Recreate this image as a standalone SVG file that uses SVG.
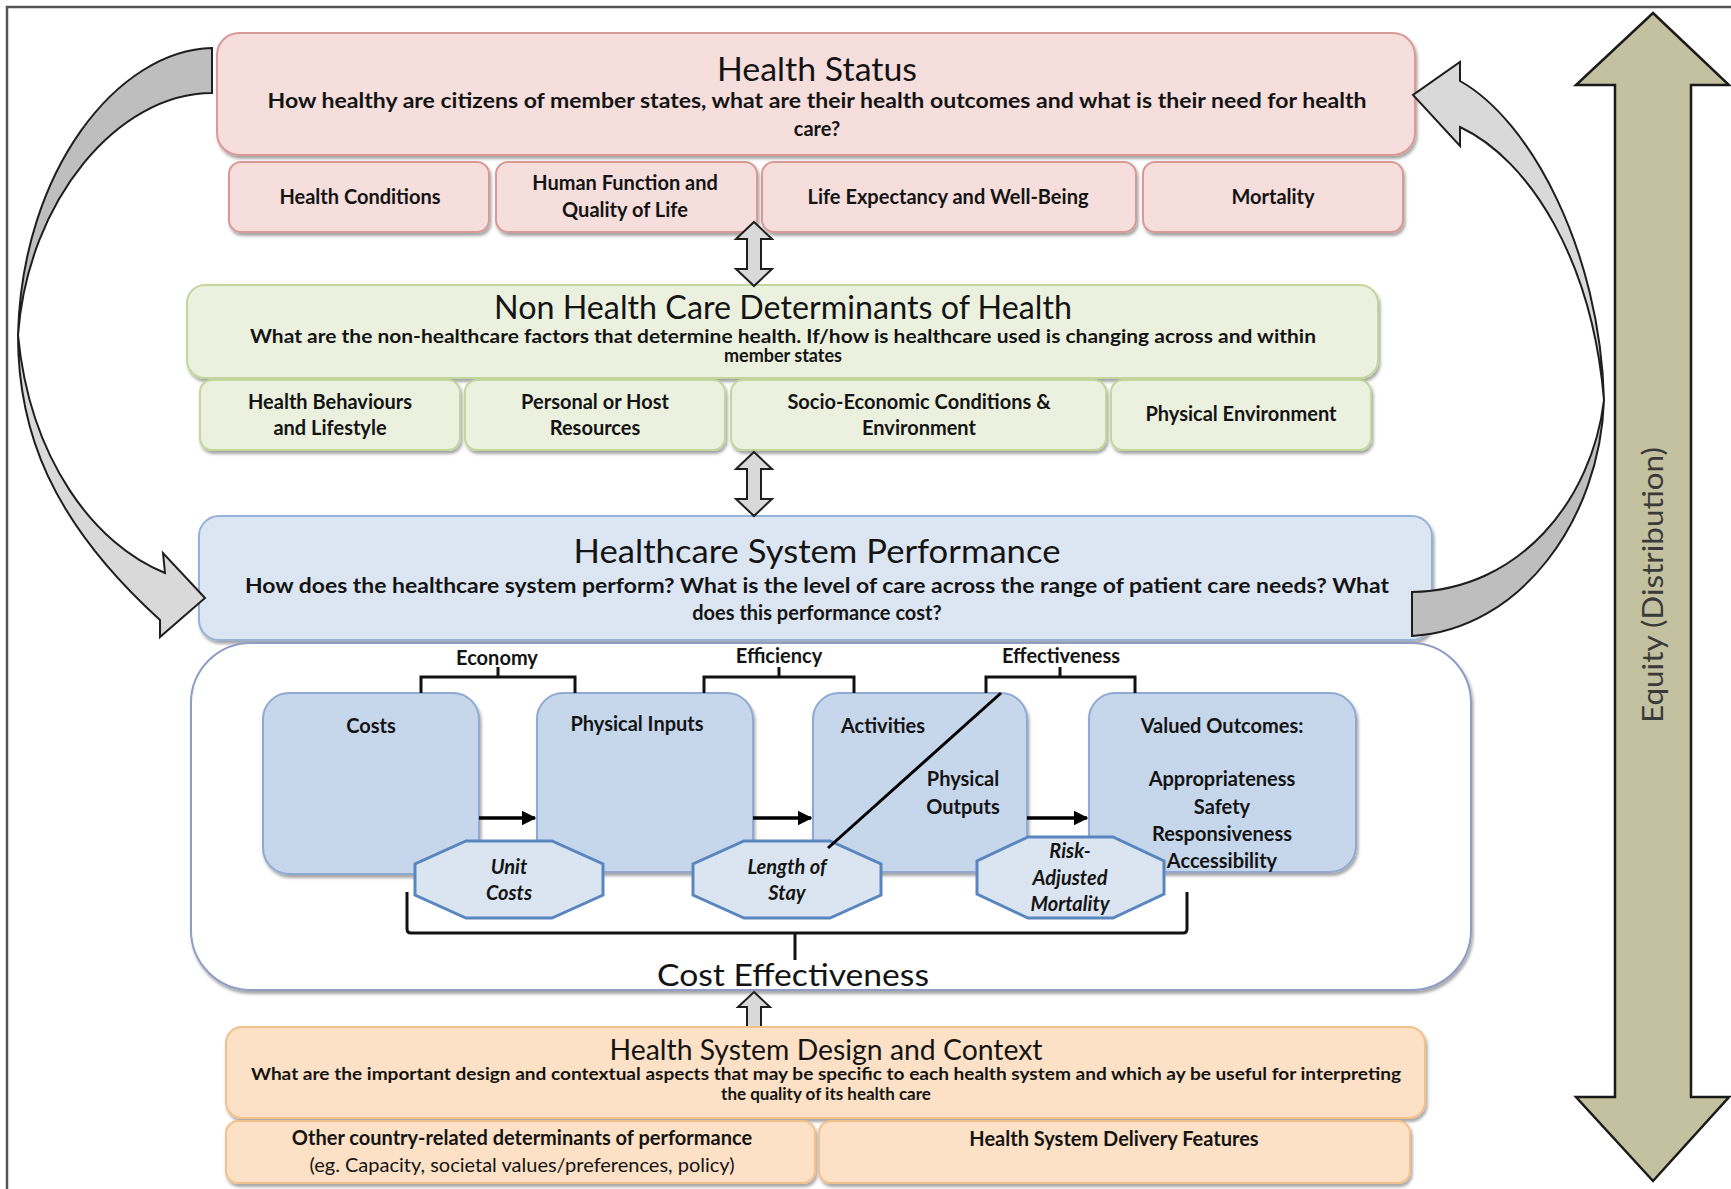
<svg xmlns="http://www.w3.org/2000/svg" width="1731" height="1189" viewBox="0 0 1731 1189">
<defs>
<filter id="sh" x="-5%" y="-10%" width="110%" height="130%">
<feDropShadow dx="1.5" dy="3" stdDeviation="1.8" flood-color="#000" flood-opacity="0.35"/>
</filter>
<marker id="ah" viewBox="0 0 10 10" refX="9" refY="5" markerWidth="4.2" markerHeight="4.2" orient="auto" markerUnits="strokeWidth">
<path d="M0,0 L10,5 L0,10 Z" fill="#000"/>
</marker>
</defs>
<style>
text{font-family:Lato,"Liberation Sans",sans-serif;fill:#141414;text-anchor:middle}
.ti{font-size:33px}
.sb{font-size:20px;font-weight:bold}
.lb{font-size:20px;font-weight:bold}
.it{font-size:20px;font-weight:bold;font-style:italic}
.pk{fill:#f5dedc;stroke:#d99a96;stroke-width:2}
.gr{fill:#ebf1de;stroke:#c3d69b;stroke-width:2}
.bl{fill:#dce6f2;stroke:#95b3d7;stroke-width:2}
.ib{fill:#c6d6eb;stroke:#8faad2;stroke-width:2}
.or{fill:#fce1c6;stroke:#f2c08a;stroke-width:2}
.oc{fill:#dbe5f1;stroke:#5a86c0;stroke-width:3}
.ga{fill:#d9d9d9;stroke:#1e1e1e;stroke-width:2;stroke-linejoin:miter}
.gd{fill:#bebebe;stroke:#1e1e1e;stroke-width:2}
.br{fill:none;stroke:#111;stroke-width:3}
</style>
<rect width="1731" height="1189" fill="#fff"/>
<path d="M7,1189 L7,7 L1731,7" fill="none" stroke="#555" stroke-width="2.5"/>

<g id="health-status">
<rect class="pk" filter="url(#sh)" x="217" y="33" width="1198" height="122" rx="22"/>
<text class="ti" x="817" y="81" textLength="200" lengthAdjust="spacingAndGlyphs">Health Status</text>
<text class="sb" x="817" y="108" textLength="1099" lengthAdjust="spacingAndGlyphs">How healthy are citizens of member states, what are their health outcomes and what is their need for health</text>
<text class="sb" x="817" y="136">care?</text>
</g>
<g id="health-conditions"><rect class="pk" filter="url(#sh)" x="229" y="162" width="260" height="70" rx="12"/><text class="lb" x="360" y="204">Health Conditions</text></g>
<g id="human-function"><rect class="pk" filter="url(#sh)" x="496" y="162" width="261" height="70" rx="12"/><text class="lb" x="625" y="190">Human Function and</text><text class="lb" x="625" y="217">Quality of Life</text></g>
<g id="life-expectancy"><rect class="pk" filter="url(#sh)" x="762" y="162" width="374" height="70" rx="12"/><text class="lb" x="948" y="204">Life Expectancy and Well-Being</text></g>
<g id="mortality"><rect class="pk" filter="url(#sh)" x="1143" y="162" width="260" height="70" rx="12"/><text class="lb" x="1273" y="204">Mortality</text></g>

<g id="non-health-care">
<rect class="gr" filter="url(#sh)" x="187" y="285" width="1191" height="93" rx="18"/>
<text class="ti" x="783" y="319" style="font-size:32px" textLength="578" lengthAdjust="spacingAndGlyphs">Non Health Care Determinants of Health</text>
<text class="sb" x="783" y="343" style="font-size:18px" textLength="1066" lengthAdjust="spacingAndGlyphs">What are the non-healthcare factors that determine health. If/how is healthcare used is changing across and within</text>
<text class="sb" x="783" y="362" style="font-size:18px">member states</text>
</g>
<g id="health-behaviours"><rect class="gr" filter="url(#sh)" x="200" y="380" width="260" height="70" rx="12"/><text class="lb" x="330" y="409">Health Behaviours</text><text class="lb" x="330" y="435">and Lifestyle</text></g>
<g id="personal-resources"><rect class="gr" filter="url(#sh)" x="465" y="380" width="260" height="70" rx="12"/><text class="lb" x="595" y="409">Personal or Host</text><text class="lb" x="595" y="435">Resources</text></g>
<g id="socio-economic"><rect class="gr" filter="url(#sh)" x="731" y="380" width="375" height="70" rx="12"/><text class="lb" x="919" y="409">Socio-Economic Conditions &amp;</text><text class="lb" x="919" y="435">Environment</text></g>
<g id="physical-environment"><rect class="gr" filter="url(#sh)" x="1111" y="380" width="260" height="70" rx="12"/><text class="lb" x="1241" y="421">Physical Environment</text></g>

<g id="healthcare-system">
<rect class="bl" filter="url(#sh)" x="199" y="516" width="1233" height="124" rx="20"/>
<text class="ti" x="817" y="563" textLength="487" lengthAdjust="spacingAndGlyphs">Healthcare System Performance</text>
<text class="sb" x="817" y="593" textLength="1144" lengthAdjust="spacingAndGlyphs">How does the healthcare system perform? What is the level of care across the range of patient care needs? What</text>
<text class="sb" x="817" y="620">does this performance cost?</text>
</g>

<g id="performance-panel">
<rect x="191" y="643" width="1280" height="347" rx="60" fill="#fff" stroke="#8e9cc6" stroke-width="2" filter="url(#sh)"/>
</g>

<g id="costs"><rect class="ib" filter="url(#sh)" x="263" y="693" width="216" height="181" rx="26"/><text class="lb" x="371" y="733">Costs</text></g>
<g id="physical-inputs"><rect class="ib" filter="url(#sh)" x="537" y="693" width="216" height="179" rx="26"/><text class="lb" x="637" y="731">Physical Inputs</text></g>
<g id="activities"><rect class="ib" filter="url(#sh)" x="813" y="693" width="214" height="179" rx="26"/><text class="lb" x="883" y="733">Activities</text><text class="lb" x="963" y="786">Physical</text><text class="lb" x="963" y="814">Outputs</text></g>
<g id="valued-outcomes"><rect class="ib" filter="url(#sh)" x="1089" y="693" width="267" height="179" rx="26"/><text class="lb" x="1222" y="733">Valued Outcomes:</text></g>

<g id="unit-costs"><polygon class="oc" points="466,841 552,841 603,864 603,895 552,918 466,918 415,895 415,864"/><text class="it" x="509" y="874">Unit</text><text class="it" x="509" y="900">Costs</text></g>
<g id="length-of-stay"><polygon class="oc" points="744,841 830,841 881,864 881,895 830,918 744,918 693,895 693,864"/><text class="it" x="787" y="874">Length of</text><text class="it" x="787" y="900">Stay</text></g>
<g id="risk-adjusted-mortality"><polygon class="oc" points="1028,837 1113,837 1164,861 1164,894 1113,918 1028,918 977,894 977,861"/><text class="it" x="1070" y="858">Risk-</text><text class="it" x="1070" y="885">Adjusted</text><text class="it" x="1070" y="911">Mortality</text></g>
<g id="valued-outcomes-list">
<text class="lb" x="1222" y="786">Appropriateness</text>
<text class="lb" x="1222" y="814">Safety</text>
<text class="lb" x="1222" y="841">Responsiveness</text>
<text class="lb" x="1222" y="868">Accessibility</text>
</g>

<g id="brackets">
<text class="lb" x="497" y="665">Economy</text>
<text class="lb" x="779" y="663">Efficiency</text>
<text class="lb" x="1061" y="663">Effectiveness</text>
<path class="br" d="M421,693 L421,677 L575,677 L575,693 M498,677 L498,667"/>
<path class="br" d="M704,693 L704,677 L854,677 L854,693 M779,677 L779,667"/>
<path class="br" d="M986,693 L986,677 L1135,677 L1135,693 M1060,677 L1060,667"/>
<path class="br" d="M407,892 L407,929 Q407,933 411,933 L1183,933 Q1187,933 1187,929 L1187,892 M795,933 L795,960"/>
<text x="793" y="986" style="font-size:31px" textLength="272" lengthAdjust="spacingAndGlyphs">Cost Effectiveness</text>
</g>

<g id="connectors">
<line x1="479" y1="818" x2="535" y2="818" stroke="#000" stroke-width="3.5" marker-end="url(#ah)"/>
<line x1="753" y1="818" x2="811" y2="818" stroke="#000" stroke-width="3.5" marker-end="url(#ah)"/>
<line x1="1027" y1="818" x2="1087" y2="818" stroke="#000" stroke-width="3.5" marker-end="url(#ah)"/>
<line x1="1001" y1="693" x2="828" y2="848" stroke="#000" stroke-width="3"/>
<polygon class="ga" points="754,222 772,239 761,239 761,269 772,269 754,286 736,269 747,269 747,239 736,239"/>
<polygon class="ga" points="754,452 772,469 761,469 761,499 772,499 754,516 736,499 747,499 747,469 736,469"/>
<polygon class="ga" points="754,992 770,1007 761,1007 761,1028 747,1028 747,1007 738,1007"/>
<path class="gd" d="M212,48 C118,50 22,170 18,335 C28,200 118,93 212,93 Z"/>
<path class="ga" d="M18,335 C18,430 50,520 160,620 L160,637 L205,598 L163,553 L165,573 C95,545 30,460 18,335 Z"/>
<path class="gd" d="M1412,636 C1520,630 1600,520 1604,400 C1592,500 1520,590 1412,592 Z"/>
<path class="ga" d="M1604,400 C1600,250 1530,120 1460,81 L1460,62 L1413,95 L1460,146 L1460,127 C1530,160 1592,260 1604,400 Z"/>
</g>

<g id="design-context">
<rect class="or" filter="url(#sh)" x="226" y="1027" width="1199" height="91" rx="16"/>
<text class="ti" x="826" y="1060" style="font-size:29px" textLength="433" lengthAdjust="spacingAndGlyphs">Health System Design and Context</text>
<text class="sb" x="826" y="1080" style="font-size:17px" textLength="1150" lengthAdjust="spacingAndGlyphs">What are the important design and contextual aspects that may be specific to each health system and which ay be useful for interpreting</text>
<text class="sb" x="826" y="1100" style="font-size:17px">the quality of its health care</text>
</g>
<g id="other-determinants"><rect class="or" filter="url(#sh)" x="226" y="1121" width="589" height="62" rx="12"/><text class="lb" x="522" y="1145">Other country-related determinants of performance</text><text x="522" y="1172" style="font-size:20px">(eg. Capacity, societal values/preferences, policy)</text></g>
<g id="delivery-features"><rect class="or" filter="url(#sh)" x="819" y="1121" width="591" height="62" rx="12"/><text class="lb" x="1114" y="1146">Health System Delivery Features</text></g>

<g id="equity">
<polygon points="1653,13 1729,85 1691,85 1691,1097 1729,1097 1653,1181 1576,1097 1615,1097 1615,85 1576,85" fill="#c4c1a0" stroke="#1a1a1a" stroke-width="2.5"/>
<text x="0" y="0" transform="translate(1663,585) rotate(-90)" style="font-size:28px;fill:#3a3a3a" textLength="276" lengthAdjust="spacingAndGlyphs">Equity (Distribution)</text>
</g>
</svg>
